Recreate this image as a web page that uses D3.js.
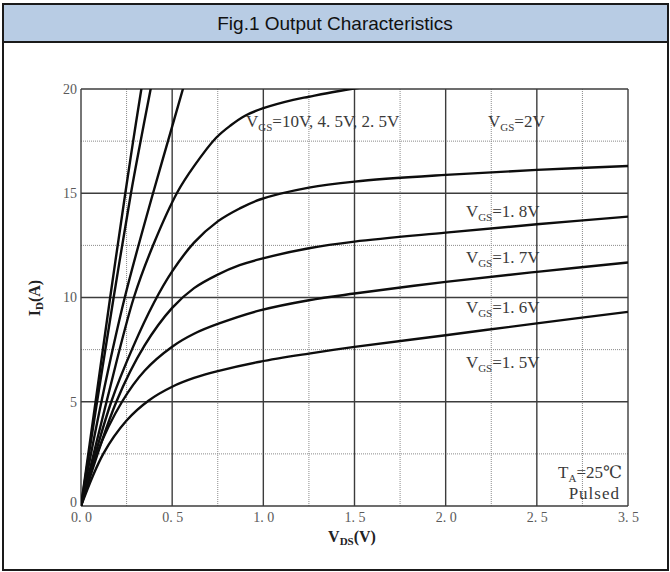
<!DOCTYPE html>
<html>
<head>
<meta charset="utf-8">
<script src="https://cdn.jsdelivr.net/npm/d3@7"></script>
<style>
  html, body { margin: 0; padding: 0; background: #fff; }
  svg { display: block; }
</style>
</head>
<body>
<svg id="chart" width="670" height="572"></svg>
<script>
// Drain-source voltage axis ticks (the last tick is printed as "3. 5" on this sheet)
const vdsTicks = [0, 0.5, 1.0, 1.5, 2.0, 2.5, 3.0];
const vdsTickLabels = ["0. 0", "0. 5", "1. 0", "1. 5", "2. 0", "2. 5", "3. 5"];
const idTicks = [0, 5, 10, 15, 20];
const idTickLabels = ["0", "5", "10", "15", "20"];
const vdsMinor = [0.25, 0.75, 1.25, 1.75, 2.25, 2.75];
const idMinor = [2.5, 7.5, 12.5, 17.5];

// Output curves, [VDS (V), ID (A)] per gate voltage
const vgs10 = [[0, 0], [0.08, 5], [0.16, 10], [0.243, 15], [0.286, 17.5], [0.331, 20], [0.36, 21.6]];
const vgs45 = [[0, 0], [0.088, 5], [0.179, 10], [0.274, 15], [0.327, 17.5], [0.382, 20], [0.41, 21.2]];
const vgs25 = [[0, 0], [0.112, 5], [0.24, 10], [0.395, 15], [0.477, 17.5], [0.559, 20], [0.6, 21.2]];
const vgs2  = [[0, 0], [0.14, 5], [0.29, 10], [0.4, 12.6], [0.53, 15.07], [0.62, 16.3], [0.74, 17.65], [0.82, 18.25], [0.9, 18.72], [1.0, 19.08], [1.164, 19.48], [1.25, 19.63], [1.4, 19.88], [1.6, 20.15]];
const vgs18 = [[0, 0], [0.166, 5], [0.285, 7.62], [0.4, 9.75], [0.5, 11.25], [0.62, 12.63], [0.75, 13.65], [0.87, 14.27], [0.981, 14.7], [1.25, 15.27], [1.5, 15.56], [2.0, 15.88], [2.5, 16.12], [3.0, 16.31]];
const vgs17 = [[0, 0], [0.194, 5], [0.349, 7.7], [0.5, 9.5], [0.62, 10.45], [0.75, 11.1], [0.87, 11.55], [0.981, 11.84], [1.25, 12.36], [1.5, 12.68], [2.0, 13.11], [2.5, 13.51], [3.0, 13.88]];
const vgs16 = [[0, 0], [0.086, 2.5], [0.225, 5], [0.35, 6.5], [0.5, 7.64], [0.62, 8.26], [0.75, 8.73], [0.981, 9.38], [1.25, 9.87], [1.5, 10.19], [2.0, 10.75], [2.5, 11.23], [3.0, 11.68]];
const vgs15 = [[0, 0], [0.122, 2.5], [0.25, 4.1], [0.37, 5.05], [0.5, 5.72], [0.62, 6.14], [0.75, 6.47], [0.981, 6.92], [1.25, 7.31], [1.5, 7.63], [2.0, 8.19], [2.5, 8.76], [3.0, 9.31]];
const curves = [vgs10, vgs45, vgs25, vgs2, vgs18, vgs17, vgs16, vgs15];

// Curve labels: subscript text and the rest, anchored at [VDS, ID]
const curveLabels = [
  { sub: "GS", rest: "=10V, 4. 5V, 2. 5V", at: [0.905, 18.18] },
  { sub: "GS", rest: "=2V", at: [2.232, 18.18] },
  { sub: "GS", rest: "=1. 8V", at: [2.111, 13.84] },
  { sub: "GS", rest: "=1. 7V", at: [2.111, 11.64] },
  { sub: "GS", rest: "=1. 6V", at: [2.111, 9.24] },
  { sub: "GS", rest: "=1. 5V", at: [2.111, 6.6] }
];

const svg = d3.select("#chart");
const serif = "'Liberation Serif', 'DejaVu Serif', serif";

// Frame and title band
svg.append("rect").attr("x", 3).attr("y", 4).attr("width", 665).attr("height", 38)
  .attr("fill", "#b8cce4");
svg.append("rect").attr("x", 3).attr("y", 4).attr("width", 665).attr("height", 566)
  .attr("fill", "none").attr("stroke", "#1a1a1a").attr("stroke-width", 2);
svg.append("line").attr("x1", 3).attr("x2", 668).attr("y1", 42).attr("y2", 42)
  .attr("stroke", "#1a1a1a").attr("stroke-width", 2);
svg.append("text").attr("x", 335).attr("y", 29.5).attr("text-anchor", "middle")
  .attr("font-family", "'Liberation Sans', Arial, sans-serif").attr("font-size", 19)
  .attr("fill", "#111").text("Fig.1 Output Characteristics");

// Scales
const x = d3.scaleLinear().domain([0, 3]).range([81, 628]);
const y = d3.scaleLinear().domain([0, 20]).range([506, 89]);

const grid = svg.append("g");
// minor dotted grid
grid.selectAll("line.vmin").data(vdsMinor).join("line").attr("class", "vmin")
  .attr("x1", d => x(d)).attr("x2", d => x(d)).attr("y1", y(20)).attr("y2", y(0))
  .attr("stroke", "#8a8a8a").attr("stroke-width", 1).attr("stroke-dasharray", "1,1");
grid.selectAll("line.hmin").data(idMinor).join("line").attr("class", "hmin")
  .attr("x1", x(0)).attr("x2", x(3)).attr("y1", d => y(d)).attr("y2", d => y(d))
  .attr("stroke", "#8a8a8a").attr("stroke-width", 1).attr("stroke-dasharray", "1,1");
// major solid grid
grid.selectAll("line.vmaj").data(vdsTicks).join("line").attr("class", "vmaj")
  .attr("x1", d => x(d)).attr("x2", d => x(d)).attr("y1", y(20)).attr("y2", y(0))
  .attr("stroke", "#3c3c3c").attr("stroke-width", 1.4);
grid.selectAll("line.hmaj").data(idTicks).join("line").attr("class", "hmaj")
  .attr("x1", x(0)).attr("x2", x(3)).attr("y1", d => y(d)).attr("y2", d => y(d))
  .attr("stroke", "#3c3c3c").attr("stroke-width", 1.4);

// Axes (labels only)
const xAxis = svg.append("g").attr("transform", `translate(0,${y(0)})`)
  .call(d3.axisBottom(x).tickValues(vdsTicks).tickFormat((d, i) => vdsTickLabels[i])
    .tickSize(0).tickPadding(6.5));
const yAxis = svg.append("g").attr("transform", `translate(${x(0)},0)`)
  .call(d3.axisLeft(y).tickValues(idTicks).tickFormat((d, i) => idTickLabels[i])
    .tickSize(0).tickPadding(4));
[xAxis, yAxis].forEach(g => {
  g.select(".domain").remove();
  g.selectAll("text").attr("font-family", serif).attr("font-size", 14)
    .attr("fill", "#5a5a5a");
});
yAxis.selectAll(".tick").filter(d => d === 0).select("text").attr("dy", "0.05em");

// Axis titles
svg.append("text").attr("x", 352).attr("y", 541.5).attr("text-anchor", "middle")
  .attr("font-family", serif).attr("font-weight", "bold").attr("font-size", 16).attr("fill", "#222")
  .call(t => {
    t.append("tspan").text("V");
    t.append("tspan").attr("font-size", 11).attr("dy", 3).text("DS");
    t.append("tspan").attr("dy", -3).text("(V)");
  });
svg.append("text").attr("transform", "translate(40,298) rotate(-90)").attr("text-anchor", "middle")
  .attr("font-family", serif).attr("font-weight", "bold").attr("font-size", 16).attr("fill", "#222")
  .call(t => {
    t.append("tspan").text("I");
    t.append("tspan").attr("font-size", 11).attr("dy", 3).text("D");
    t.append("tspan").attr("dy", -3).text("(A)");
  });

// Curves
svg.append("defs").append("clipPath").attr("id", "plotClip")
  .append("rect").attr("x", x(0)).attr("y", y(20)).attr("width", x(3) - x(0)).attr("height", y(0) - y(20));
const line = d3.line().x(d => x(d[0])).y(d => y(d[1])).curve(d3.curveCatmullRom.alpha(0.5));
svg.append("g").attr("clip-path", "url(#plotClip)")
  .selectAll("path").data(curves).join("path")
  .attr("d", line).attr("fill", "none").attr("stroke", "#0d0d0d").attr("stroke-width", 2.4)
  .attr("stroke-linejoin", "round");

// Curve labels
svg.append("g").selectAll("text").data(curveLabels).join("text")
  .attr("x", d => x(d.at[0])).attr("y", d => y(d.at[1]))
  .attr("font-family", serif).attr("font-size", 17).attr("fill", "#3a3a3a")
  .each(function (d) {
    const t = d3.select(this);
    t.append("tspan").text("V");
    t.append("tspan").attr("font-size", 11).attr("dy", 4).text(d.sub);
    t.append("tspan").attr("dy", -4).text(d.rest);
  });

// Test conditions
const cond = svg.append("g").attr("font-family", serif).attr("font-size", 17).attr("fill", "#3a3a3a")
  .attr("text-anchor", "end");
cond.append("text").attr("x", 622).attr("y", 477.5).call(t => {
  t.append("tspan").text("T");
  t.append("tspan").attr("font-size", 11).attr("dy", 4).text("A");
  t.append("tspan").attr("dy", -4).text("=25℃");
});
cond.append("text").attr("x", 620).attr("y", 498.5).attr("letter-spacing", 1).text("Pulsed");
</script>
</body>
</html>
